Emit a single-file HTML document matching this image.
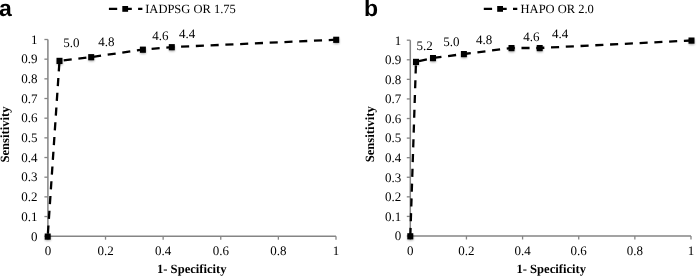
<!DOCTYPE html>
<html><head><meta charset="utf-8"><style>
html,body{margin:0;padding:0;background:#fff;overflow:hidden}
svg{display:block;will-change:transform}
text{-webkit-font-smoothing:antialiased;text-rendering:geometricPrecision}
.t{font-family:"Liberation Serif",serif;font-size:13px;fill:#000}
.lg{font-size:12.5px}
.b{font-family:"Liberation Serif",serif;font-size:12.6px;font-weight:bold;fill:#000}
.tag{font-family:"Liberation Sans",sans-serif;font-size:23px;font-weight:bold;fill:#000}
</style></head><body>
<svg width="698" height="276" viewBox="0 0 698 276">
<defs><filter id="sh" x="-1" y="-1" width="3" height="3"><feGaussianBlur stdDeviation="1.2"/></filter></defs>
<path d="M47.9 39.5V236.2H336.0" fill="none" stroke="#858585" stroke-width="1.5"/>
<path d="M44.4 236.20H47.9" stroke="#858585" stroke-width="1.3"/>
<text x="37.6" y="240.50" text-anchor="end" class="t">0</text>
<path d="M44.4 216.53H47.9" stroke="#858585" stroke-width="1.3"/>
<text x="37.6" y="220.83" text-anchor="end" class="t">0.1</text>
<path d="M44.4 196.86H47.9" stroke="#858585" stroke-width="1.3"/>
<text x="37.6" y="201.16" text-anchor="end" class="t">0.2</text>
<path d="M44.4 177.19H47.9" stroke="#858585" stroke-width="1.3"/>
<text x="37.6" y="181.49" text-anchor="end" class="t">0.3</text>
<path d="M44.4 157.52H47.9" stroke="#858585" stroke-width="1.3"/>
<text x="37.6" y="161.82" text-anchor="end" class="t">0.4</text>
<path d="M44.4 137.85H47.9" stroke="#858585" stroke-width="1.3"/>
<text x="37.6" y="142.15" text-anchor="end" class="t">0.5</text>
<path d="M44.4 118.18H47.9" stroke="#858585" stroke-width="1.3"/>
<text x="37.6" y="122.48" text-anchor="end" class="t">0.6</text>
<path d="M44.4 98.51H47.9" stroke="#858585" stroke-width="1.3"/>
<text x="37.6" y="102.81" text-anchor="end" class="t">0.7</text>
<path d="M44.4 78.84H47.9" stroke="#858585" stroke-width="1.3"/>
<text x="37.6" y="83.14" text-anchor="end" class="t">0.8</text>
<path d="M44.4 59.17H47.9" stroke="#858585" stroke-width="1.3"/>
<text x="37.6" y="63.47" text-anchor="end" class="t">0.9</text>
<path d="M44.4 39.50H47.9" stroke="#858585" stroke-width="1.3"/>
<text x="37.6" y="43.80" text-anchor="end" class="t">1</text>
<path d="M47.90 236.2V239.7" stroke="#858585" stroke-width="1.3"/>
<text x="47.90" y="255.40" text-anchor="middle" class="t">0</text>
<path d="M105.52 236.2V239.7" stroke="#858585" stroke-width="1.3"/>
<text x="105.52" y="255.40" text-anchor="middle" class="t">0.2</text>
<path d="M163.14 236.2V239.7" stroke="#858585" stroke-width="1.3"/>
<text x="163.14" y="255.40" text-anchor="middle" class="t">0.4</text>
<path d="M220.76 236.2V239.7" stroke="#858585" stroke-width="1.3"/>
<text x="220.76" y="255.40" text-anchor="middle" class="t">0.6</text>
<path d="M278.38 236.2V239.7" stroke="#858585" stroke-width="1.3"/>
<text x="278.38" y="255.40" text-anchor="middle" class="t">0.8</text>
<path d="M336.00 236.2V239.7" stroke="#858585" stroke-width="1.3"/>
<text x="336.00" y="255.40" text-anchor="middle" class="t">1</text>
<path d="M47.7 236.5 L59.5 60.8 L91.2 57.1 L142.9 49.6 L171.8 47.1 L336.2 39.7" fill="none" stroke="#000" stroke-width="2.3" stroke-dasharray="8.1 6.68" stroke-dashoffset="11.84"/>
<rect x="45.10" y="235.10" width="5.6" height="5.6" fill="#000" opacity="0.35" filter="url(#sh)"/>
<rect x="56.90" y="59.40" width="5.6" height="5.6" fill="#000" opacity="0.35" filter="url(#sh)"/>
<rect x="88.60" y="55.70" width="5.6" height="5.6" fill="#000" opacity="0.35" filter="url(#sh)"/>
<rect x="140.30" y="48.20" width="5.6" height="5.6" fill="#000" opacity="0.35" filter="url(#sh)"/>
<rect x="169.20" y="45.70" width="5.6" height="5.6" fill="#000" opacity="0.35" filter="url(#sh)"/>
<rect x="333.60" y="38.30" width="5.6" height="5.6" fill="#000" opacity="0.35" filter="url(#sh)"/>
<rect x="44.70" y="233.50" width="6" height="6.2" fill="#000"/>
<rect x="56.50" y="57.80" width="6" height="6.2" fill="#000"/>
<rect x="88.20" y="54.10" width="6" height="6.2" fill="#000"/>
<rect x="139.90" y="46.60" width="6" height="6.2" fill="#000"/>
<rect x="168.80" y="44.10" width="6" height="6.2" fill="#000"/>
<rect x="333.20" y="36.70" width="6" height="6.2" fill="#000"/>
<text x="71.3" y="46.8" text-anchor="middle" class="t">5.0</text>
<text x="106.3" y="46.1" text-anchor="middle" class="t">4.8</text>
<text x="160.3" y="40.2" text-anchor="middle" class="t">4.6</text>
<text x="187.0" y="38.2" text-anchor="middle" class="t">4.4</text>
<text transform="translate(9.2,134.5) rotate(-90)" text-anchor="middle" class="b">Sensitivity</text>
<text x="191.8" y="273" text-anchor="middle" class="b">1- Specificity</text>
<text x="-1.0" y="16" class="tag">a</text>
<path d="M108.9 8.9H142.4" stroke="#000" stroke-width="2.3" stroke-dasharray="8.3 6.3"/>
<rect x="122.30000000000001" y="6.0" width="5.8" height="5.8" fill="#000"/>
<text x="145.2" y="13.2" class="t lg">IADPSG OR 1.75</text>
<path d="M410.3 40.2V236.0H691.0" fill="none" stroke="#858585" stroke-width="1.5"/>
<path d="M406.8 236.00H410.3" stroke="#858585" stroke-width="1.3"/>
<text x="401.2" y="240.30" text-anchor="end" class="t">0</text>
<path d="M406.8 216.42H410.3" stroke="#858585" stroke-width="1.3"/>
<text x="401.2" y="220.72" text-anchor="end" class="t">0.1</text>
<path d="M406.8 196.84H410.3" stroke="#858585" stroke-width="1.3"/>
<text x="401.2" y="201.14" text-anchor="end" class="t">0.2</text>
<path d="M406.8 177.26H410.3" stroke="#858585" stroke-width="1.3"/>
<text x="401.2" y="181.56" text-anchor="end" class="t">0.3</text>
<path d="M406.8 157.68H410.3" stroke="#858585" stroke-width="1.3"/>
<text x="401.2" y="161.98" text-anchor="end" class="t">0.4</text>
<path d="M406.8 138.10H410.3" stroke="#858585" stroke-width="1.3"/>
<text x="401.2" y="142.40" text-anchor="end" class="t">0.5</text>
<path d="M406.8 118.52H410.3" stroke="#858585" stroke-width="1.3"/>
<text x="401.2" y="122.82" text-anchor="end" class="t">0.6</text>
<path d="M406.8 98.94H410.3" stroke="#858585" stroke-width="1.3"/>
<text x="401.2" y="103.24" text-anchor="end" class="t">0.7</text>
<path d="M406.8 79.36H410.3" stroke="#858585" stroke-width="1.3"/>
<text x="401.2" y="83.66" text-anchor="end" class="t">0.8</text>
<path d="M406.8 59.78H410.3" stroke="#858585" stroke-width="1.3"/>
<text x="401.2" y="64.08" text-anchor="end" class="t">0.9</text>
<path d="M406.8 40.20H410.3" stroke="#858585" stroke-width="1.3"/>
<text x="401.2" y="44.50" text-anchor="end" class="t">1</text>
<path d="M410.30 236.0V239.5" stroke="#858585" stroke-width="1.3"/>
<text x="410.30" y="255.20" text-anchor="middle" class="t">0</text>
<path d="M466.44 236.0V239.5" stroke="#858585" stroke-width="1.3"/>
<text x="466.44" y="255.20" text-anchor="middle" class="t">0.2</text>
<path d="M522.58 236.0V239.5" stroke="#858585" stroke-width="1.3"/>
<text x="522.58" y="255.20" text-anchor="middle" class="t">0.4</text>
<path d="M578.72 236.0V239.5" stroke="#858585" stroke-width="1.3"/>
<text x="578.72" y="255.20" text-anchor="middle" class="t">0.6</text>
<path d="M634.86 236.0V239.5" stroke="#858585" stroke-width="1.3"/>
<text x="634.86" y="255.20" text-anchor="middle" class="t">0.8</text>
<path d="M691.00 236.0V239.5" stroke="#858585" stroke-width="1.3"/>
<text x="691.00" y="255.20" text-anchor="middle" class="t">1</text>
<path d="M410.3 236.2 L416 61.8 L433 58 L463.9 54 L511.5 48 L539.7 48 L691.5 40.5" fill="none" stroke="#000" stroke-width="2.3" stroke-dasharray="8.1 6.68" stroke-dashoffset="14.58"/>
<rect x="407.70" y="234.80" width="5.6" height="5.6" fill="#000" opacity="0.35" filter="url(#sh)"/>
<rect x="413.40" y="60.40" width="5.6" height="5.6" fill="#000" opacity="0.35" filter="url(#sh)"/>
<rect x="430.40" y="56.60" width="5.6" height="5.6" fill="#000" opacity="0.35" filter="url(#sh)"/>
<rect x="461.30" y="52.60" width="5.6" height="5.6" fill="#000" opacity="0.35" filter="url(#sh)"/>
<rect x="508.90" y="46.60" width="5.6" height="5.6" fill="#000" opacity="0.35" filter="url(#sh)"/>
<rect x="537.10" y="46.60" width="5.6" height="5.6" fill="#000" opacity="0.35" filter="url(#sh)"/>
<rect x="688.90" y="39.10" width="5.6" height="5.6" fill="#000" opacity="0.35" filter="url(#sh)"/>
<rect x="407.30" y="233.20" width="6" height="6.2" fill="#000"/>
<rect x="413.00" y="58.80" width="6" height="6.2" fill="#000"/>
<rect x="430.00" y="55.00" width="6" height="6.2" fill="#000"/>
<rect x="460.90" y="51.00" width="6" height="6.2" fill="#000"/>
<rect x="508.50" y="45.00" width="6" height="6.2" fill="#000"/>
<rect x="536.70" y="45.00" width="6" height="6.2" fill="#000"/>
<rect x="688.50" y="37.50" width="6" height="6.2" fill="#000"/>
<text x="424.5" y="49.6" text-anchor="middle" class="t">5.2</text>
<text x="451.4" y="46.2" text-anchor="middle" class="t">5.0</text>
<text x="484.1" y="43.6" text-anchor="middle" class="t">4.8</text>
<text x="531.3" y="41.3" text-anchor="middle" class="t">4.6</text>
<text x="560.1" y="38.0" text-anchor="middle" class="t">4.4</text>
<text transform="translate(373.8,134.3) rotate(-90)" text-anchor="middle" class="b">Sensitivity</text>
<text x="551.2" y="273" text-anchor="middle" class="b">1- Specificity</text>
<text x="363.9" y="16" class="tag">b</text>
<path d="M483.8 8.9H517.3" stroke="#000" stroke-width="2.3" stroke-dasharray="8.3 6.3"/>
<rect x="497.2" y="6.0" width="5.8" height="5.8" fill="#000"/>
<text x="520.6" y="13.2" class="t lg">HAPO OR 2.0</text>
</svg>
</body></html>
